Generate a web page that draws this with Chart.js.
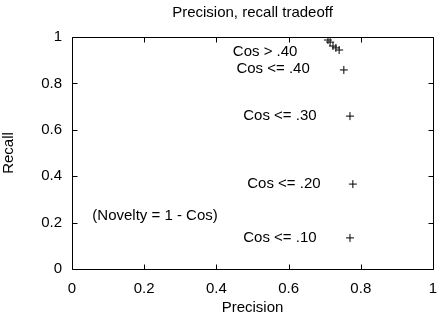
<!DOCTYPE html>
<html lang="en">
<head>
<meta charset="UTF-8">
<title>Precision, recall tradeoff</title>
<script src="https://cdn.jsdelivr.net/npm/chart.js@4"></script>
<style>
  html, body { margin: 0; padding: 0; background: #fff; }
  #wrap { width: 442px; height: 318px; }
</style>
</head>
<body>
<div id="wrap"><canvas id="prChart"></canvas></div>
<script>
// points, top cluster first
const precision = [0.709, 0.715, 0.723, 0.731, 0.740, 0.753, 0.770, 0.778, 0.770]
const recall = [0.987, 0.978, 0.961, 0.953, 0.944, 0.858, 0.659, 0.366, 0.134]
const tickValues = [0, 0.2, 0.4, 0.6, 0.8, 1]

// text labels placed in data coordinates
const labelTexts = ['Cos > .40', 'Cos <= .40', 'Cos <= .30', 'Cos <= .20', 'Cos <= .10', '(Novelty = 1 - Cos)']
const labelX = [0.535, 0.557, 0.576, 0.587, 0.576, 0.230]
const labelY = [0.935, 0.862, 0.659, 0.366, 0.134, 0.228]

const FONT = '"Liberation Sans", Arial, sans-serif'
Chart.defaults.font.family = FONT
Chart.defaults.font.size = 15
Chart.defaults.color = '#000'

const gnuplotLook = {
    id: 'gnuplotLook',
    afterDraw(chart) {
        const {ctx, chartArea: a, scales: {x, y}} = chart
        ctx.save()
        ctx.strokeStyle = '#000'
        ctx.lineWidth = 1
        const L = Math.round(a.left) + 0.5, R = Math.round(a.right) + 0.5
        const T = Math.round(a.top) + 0.5, B = Math.round(a.bottom) + 0.5
        ctx.beginPath()
        ctx.rect(L, T, R - L, B - T)
        // inward ticks, mirrored on top and right
        tickValues.forEach(v => {
            const px = Math.round(x.getPixelForValue(v)) + 0.5
            const py = Math.round(y.getPixelForValue(v)) + 0.5
            ctx.moveTo(px, B); ctx.lineTo(px, B - 5)
            ctx.moveTo(px, T); ctx.lineTo(px, T + 5)
            ctx.moveTo(L, py); ctx.lineTo(L + 5, py)
            ctx.moveTo(R, py); ctx.lineTo(R - 5, py)
        })
        ctx.stroke()

        ctx.fillStyle = '#000'
        ctx.font = '15px ' + FONT
        ctx.textAlign = 'center'
        ctx.textBaseline = 'middle'
        ctx.fillText('Precision, recall tradeoff', (a.left + a.right) / 2, 13)
        labelTexts.forEach((t, i) => {
            ctx.fillText(t, x.getPixelForValue(labelX[i]), y.getPixelForValue(labelY[i]))
        })
        ctx.restore()
    }
}

new Chart(document.getElementById('prChart'), {
    type: 'scatter',
    data: {
        datasets: [{
            data: precision.map((p, i) => ({x: p, y: recall[i]})),
            pointStyle: 'cross',
            pointRadius: 4,
            pointHoverRadius: 4,
            borderColor: '#000',
            backgroundColor: '#000',
            borderWidth: 1
        }]
    },
    options: {
        responsive: true,
        maintainAspectRatio: false,
        animation: false,
        layout: {padding: {top: 37, right: 9, left: 0, bottom: 0}},
        plugins: {legend: {display: false}, tooltip: {enabled: false}},
        scales: {
            x: {
                type: 'linear',
                min: 0, max: 1,
                afterBuildTicks: s => { s.ticks = tickValues.map(v => ({value: v})) },
                afterFit: s => { s.height = 49; s.paddingLeft = 0; s.paddingRight = 0 },
                grid: {display: false, drawTicks: false},
                border: {display: false},
                ticks: {padding: 11, callback: v => String(Math.round(v * 10) / 10)},
                title: {display: true, text: 'Precision', padding: {top: 0, bottom: 1}}
            },
            y: {
                type: 'linear',
                min: 0, max: 1,
                afterBuildTicks: s => { s.ticks = tickValues.map(v => ({value: v})) },
                afterFit: s => { s.width = 72; s.paddingTop = 0; s.paddingBottom = 0 },
                grid: {display: false, drawTicks: false},
                border: {display: false},
                ticks: {padding: 10, callback: v => String(Math.round(v * 10) / 10)},
                title: {display: true, text: 'Recall', padding: {top: 0, bottom: 0}}
            }
        }
    },
    plugins: [gnuplotLook]
})
</script>
</body>
</html>
